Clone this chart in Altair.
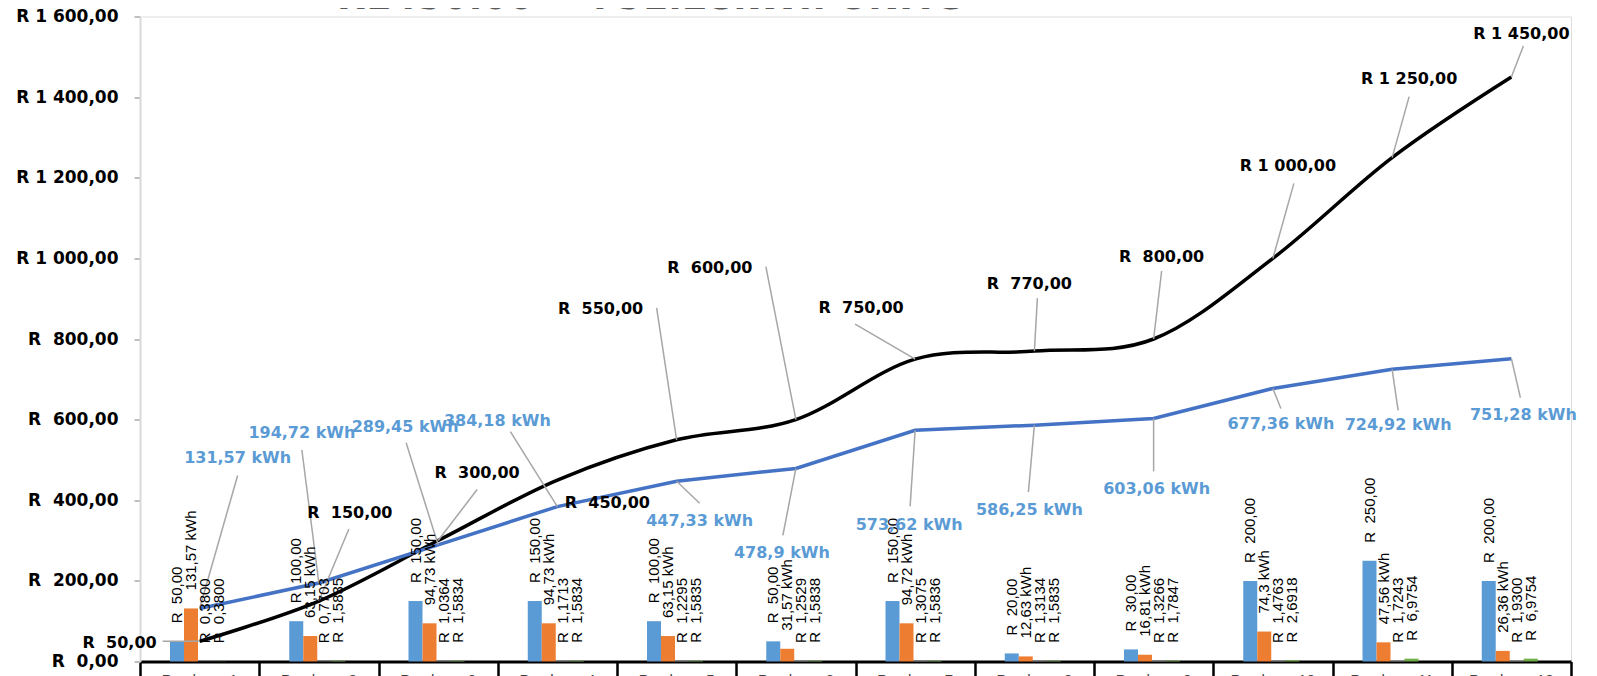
import altair as alt
import pandas as pd

# ---------------- data ----------------
categories = ["Purchase 1", "Purchase 2", "Purchase 3", "Purchase 4", "Purchase 5", "Purchase 6",
              "Purchase 7", "Purchase 8", "Purchase 9", "Purchase 10", "Purchase 11", "Purchase 12"]
amount = [50, 100, 150, 150, 100, 50, 150, 20, 30, 200, 250, 200]
kwh = [131.57, 63.15, 94.73, 94.73, 63.15, 31.57, 94.72, 12.63, 16.81, 74.3, 47.56, 26.36]
avg_rate = [0.3800, 0.7703, 1.0364, 1.1713, 1.2295, 1.2529, 1.3075, 1.3134, 1.3266, 1.4763, 1.7243, 1.9300]
unit_rate = [0.3800, 1.5835, 1.5834, 1.5834, 1.5835, 1.5838, 1.5836, 1.5835, 1.7847, 2.6918, 6.9754, 6.9754]
cum_amount = [50, 150, 300, 450, 550, 600, 750, 770, 800, 1000, 1250, 1450]
cum_kwh = [131.57, 194.72, 289.45, 384.18, 447.33, 478.9, 573.62, 586.25, 603.06, 677.36, 724.92, 751.28]
title_text = "R1450.00 = 751.28kWh UNITS"

# ---------------- layout / style ----------------
W, H = 1431, 645
YMAX = 1600
PXX = W / 12.0
PXY = H / YMAX
NB = "\u00a0"

# label placement (pixels, relative to the data point): label centre and leader end
blk_lab = [(-80, 2), (31, -88), (39, -68), (50, 23), (-76, -131), (-86, -152),
           (-54, -51), (-5, -67), (8, -82), (15, -92), (17, -79), (10, -43)]
blk_lead = [(-37, 0), (30, -72), (39, -51), (0, 0), (-20, -132), (-30, -153),
            (-60, -35), (3, -53), (8, -68), (21, -75), (17, -61), (12, -31)]
blu_lab = [(38, -150), (-17, -150), (-33, -118), (-60, -86), (23, 40), (-14, 85),
           (-6, 95), (-5, 85), (3, 71), (8, 36), (6, 56), (12, 56)]
blu_lead = [(38, -133), (-17, -133), (-32, -102), (-47, -75), (23, 22), (-13, 67),
            (-5, 76), (-6, 67), (0, 53), (8, 20), (6, 41), (9, 39)]

BLUE_BAR, ORANGE, GREY, GREEN = "#5B9BD5", "#ED7D31", "#A5A5A5", "#70AD47"
LINE_BLUE, LABEL_BLUE, LEADER = "#4472C4", "#5B9BD5", "#A6A6A6"


def rand(v, dec=2):
    s = f"{v:,.{dec}f}".replace(",", " ").replace(".", ",")
    return "R" + (" " if v >= 1000 else NB + NB) + s


def kwh_txt(v):
    return (f"{v}".rstrip("0").rstrip(".")).replace(".", ",") + " kWh"


series = ["Amount", "kWh", "Average rate", "Unit rate"]
bar_rows = []
for i in range(12):
    vals = [amount[i], kwh[i], avg_rate[i], unit_rate[i]]
    labs = [rand(amount[i]), kwh_txt(kwh[i]), rand(avg_rate[i], 4), rand(unit_rate[i], 4)]
    for k in range(4):
        x0 = i + 0.2516 + 0.1174 * k
        bar_rows.append({"x0": x0, "x1": x0 + 0.1174, "xc": x0 + 0.0587, "v": vals[k],
                         "series": series[k], "label": labs[k]})
bars_df = pd.DataFrame(bar_rows)

line_df = pd.DataFrame({"xc": [i + 0.5 for i in range(12)], "cum_amount": cum_amount, "cum_kwh": cum_kwh,
                        "cat": categories})


def label_frame(vals, labs, leads, texts):
    rows = []
    for i, v in enumerate(vals):
        xc = i + 0.5
        rows.append({"x": xc, "y": v,
                     "lx": xc + labs[i][0] / PXX, "ly": v - labs[i][1] / PXY,
                     "ex": xc + leads[i][0] / PXX, "ey": v - leads[i][1] / PXY,
                     "text": texts[i], "lead": leads[i] != (0, 0)})
    return pd.DataFrame(rows)


blk_df = label_frame(cum_amount, blk_lab, blk_lead, [rand(v) for v in cum_amount])
blu_df = label_frame(cum_kwh, blu_lab, blu_lead, [kwh_txt(v) for v in cum_kwh])

xscale = alt.Scale(domain=[0, 12], nice=False, zero=False)
yscale = alt.Scale(domain=[0, YMAX], nice=False)

y_label_expr = ("'R' + (datum.value < 1000 ? '" + NB + NB + "' : ' ') + "
                "replace(replace(format(datum.value, ',.2f'), ',', ' '), '.', ',')")

bars = alt.Chart(bars_df).mark_bar().encode(
    x=alt.X("x0:Q", scale=xscale, axis=alt.Axis(
        values=list(range(13)), labels=False, title=None, grid=False,
        domainColor="black", domainWidth=3, tickColor="black", tickWidth=2.5, tickSize=30)),
    x2="x1:Q",
    y=alt.Y("v:Q", scale=yscale, axis=alt.Axis(
        values=list(range(0, 1601, 200)), labelExpr=y_label_expr, title=None, grid=False,
        domainColor="#D9D9D9", domainWidth=2, tickColor="#BFBFBF", tickWidth=2, tickSize=6,
        labelFont="DejaVu Sans", labelFontWeight="bold", labelFontSize=17, labelColor="black",
        labelPadding=16)),
    y2=alt.datum(0),
    color=alt.Color("series:N", scale=alt.Scale(domain=series, range=[BLUE_BAR, ORANGE, GREY, GREEN]),
                    legend=None),
)

bar_labels = alt.Chart(bars_df).mark_text(
    angle=270, align="left", baseline="middle", dx=18, font="Liberation Sans", fontSize=15, color="black"
).encode(x=alt.X("xc:Q", scale=xscale), y=alt.Y("v:Q", scale=yscale), text="label:N")

black_line = alt.Chart(line_df).mark_line(interpolate="cardinal", color="black", strokeWidth=3.5).encode(
    x=alt.X("xc:Q", scale=xscale), y=alt.Y("cum_amount:Q", scale=yscale))
blue_line = alt.Chart(line_df).mark_line(color=LINE_BLUE, strokeWidth=3.5).encode(
    x=alt.X("xc:Q", scale=xscale), y=alt.Y("cum_kwh:Q", scale=yscale))


def leaders(df):
    return alt.Chart(df).transform_filter("datum.lead").mark_rule(color=LEADER, strokeWidth=1.5).encode(
        x=alt.X("x:Q", scale=xscale), y=alt.Y("y:Q", scale=yscale), x2="ex:Q", y2="ey:Q")


blk_text = alt.Chart(blk_df).mark_text(
    font="DejaVu Sans", fontWeight="bold", fontSize=16, color="black", align="center", baseline="middle"
).encode(x=alt.X("lx:Q", scale=xscale), y=alt.Y("ly:Q", scale=yscale), text="text:N")
blu_text = alt.Chart(blu_df).mark_text(
    font="DejaVu Sans", fontWeight="bold", fontSize=16, color=LABEL_BLUE, align="center", baseline="middle"
).encode(x=alt.X("lx:Q", scale=xscale), y=alt.Y("ly:Q", scale=yscale), text="text:N")

cat_text = alt.Chart(line_df).mark_text(
    font="Liberation Sans", fontSize=15, color="#404040", baseline="top", align="center"
).encode(x=alt.X("xc:Q", scale=xscale), y=alt.value(H + 11), text="cat:N")

title = alt.Chart(pd.DataFrame({"t": [title_text]})).mark_text(
    font="DejaVu Sans", fontWeight="bold", fontSize=37, color="#595959", align="center",
    baseline="alphabetic"
).encode(x=alt.value(511), y=alt.value(-8), text="t:N")

chart = alt.layer(
    bars, black_line, blue_line, leaders(blk_df), leaders(blu_df), bar_labels, blk_text, blu_text,
    cat_text, title
).properties(
    width=W, height=H,
    autosize=alt.AutoSizeParams(type="none"),
    padding={"left": 132, "top": 8.5, "right": 10, "bottom": 20},
).configure_view(stroke=None).configure(background="white")

chart.save("out.html", embed_options={"renderer": "svg", "actions": False})
